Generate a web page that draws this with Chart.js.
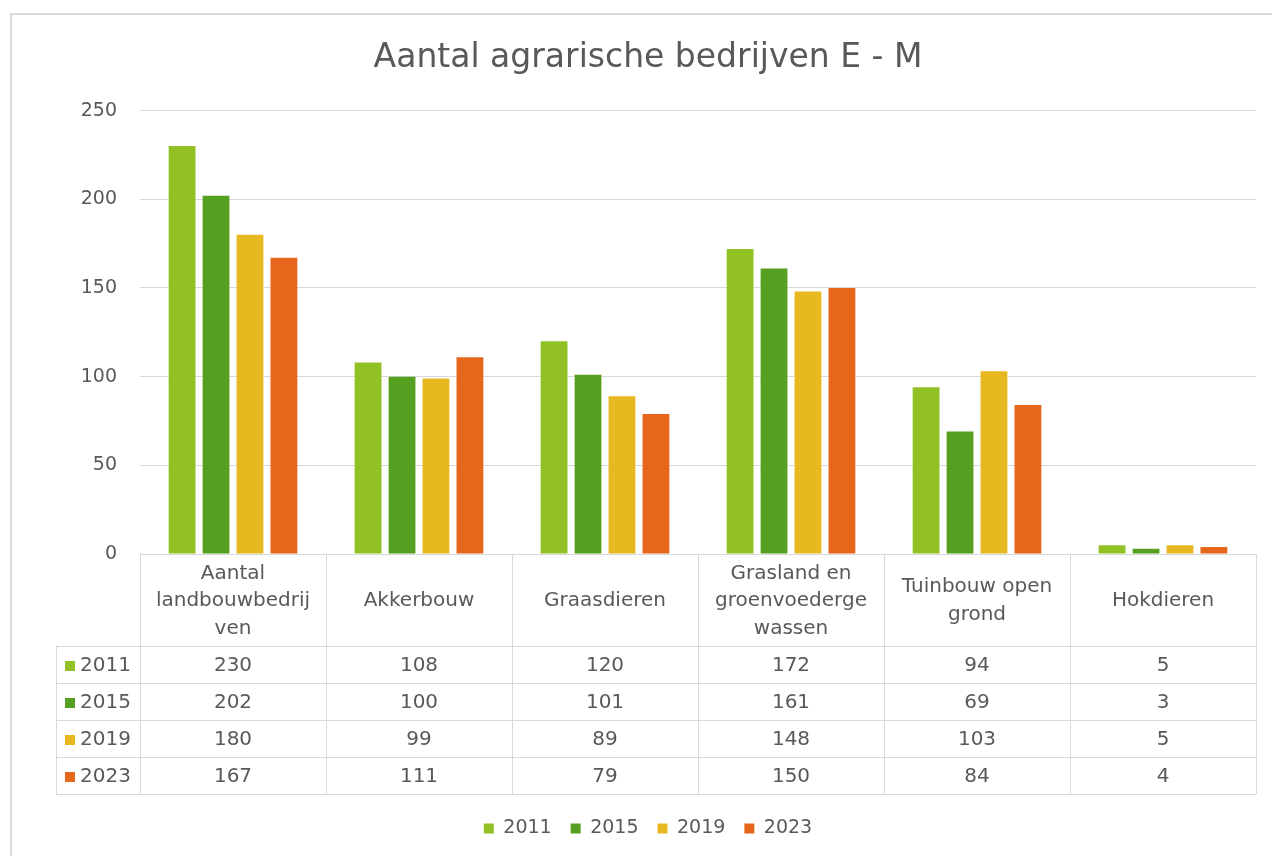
<!DOCTYPE html>
<html>
<head>
<meta charset="utf-8">
<script src="https://cdn.jsdelivr.net/npm/chart.js@4"></script>
<style>
html,body{margin:0;padding:0;background:#ffffff;}
#wrap{position:relative;width:1272px;height:856px;}
</style>
</head>
<body>
<div id="wrap"><canvas id="c" width="1272" height="856"></canvas></div>
<script>
const chartTitle = "Aantal agrarische bedrijven E - M";
const categories = [
  ["Aantal", "landbouwbedrij", "ven"],
  ["Akkerbouw"],
  ["Graasdieren"],
  ["Grasland en", "groenvoederge", "wassen"],
  ["Tuinbouw open", "grond"],
  ["Hokdieren"]
];
const seriesNames = ["2011", "2015", "2019", "2023"];
const values2011 = [230, 108, 120, 172, 94, 5];
const values2015 = [202, 100, 101, 161, 69, 3];
const values2019 = [180, 99, 89, 148, 103, 5];
const values2023 = [167, 111, 79, 150, 84, 4];
const seriesColors = ["#91c124", "#55a021", "#e7b81f", "#e6671b"];
const yMin = 0, yMax = 250, yStep = 50;

const FONT = "'DejaVu Sans', sans-serif";
const TEXT = "#595959";
const LINE = "#d9d9d9";

const seriesValues = [values2011, values2015, values2019, values2023];

const frameAndTable = {
  id: 'frameAndTable',
  beforeDraw(chart) {
    const ctx = chart.ctx;
    ctx.save();
    ctx.strokeStyle = LINE;
    ctx.lineWidth = 2;
    ctx.beginPath();
    ctx.moveTo(11, chart.height);
    ctx.lineTo(11, 14);
    ctx.lineTo(chart.width, 14);
    ctx.stroke();
    ctx.restore();
  },
  afterDraw(chart) {
    const ctx = chart.ctx;
    const x = chart.scales.x;
    const area = chart.chartArea;
    const n = chart.data.labels.length;
    const colW = (x.right - x.left) / n;
    const top = Math.round(area.bottom);
    const headerH = 92, rowH = 37;
    const keyLeft = 56;
    const nRows = chart.data.datasets.length;
    const bottom = top + headerH + rowH * nRows;

    ctx.save();
    ctx.strokeStyle = LINE;
    ctx.lineWidth = 1;
    ctx.beginPath();
    ctx.moveTo(x.left, top + 0.5); ctx.lineTo(x.right, top + 0.5);
    for (let r = 0; r <= nRows; r++) {
      const yy = top + headerH + r * rowH + 0.5;
      ctx.moveTo(keyLeft, yy); ctx.lineTo(x.right, yy);
    }
    ctx.moveTo(keyLeft + 0.5, top + headerH); ctx.lineTo(keyLeft + 0.5, bottom);
    for (let i = 0; i <= n; i++) {
      const cx = Math.round(x.getPixelForValue(Math.min(i, n - 1)) + (i === n ? colW / 2 : -colW / 2)) + 0.5;
      ctx.moveTo(cx, top); ctx.lineTo(cx, bottom);
    }
    ctx.stroke();

    ctx.fillStyle = TEXT;
    ctx.font = "20px " + FONT;
    ctx.textAlign = 'center';
    ctx.textBaseline = 'middle';
    const lh = 27.5;
    chart.data.labels.forEach((lab, i) => {
      const cx = x.getPixelForValue(i);
      const lines = Array.isArray(lab) ? lab : [lab];
      const start = top + 47 - (lines.length - 1) * lh / 2;
      lines.forEach((t, k) => ctx.fillText(t, cx, start + k * lh));
    });
    chart.data.datasets.forEach((ds, r) => {
      const cy = top + headerH + r * rowH + rowH / 2 + 1;
      ds.data.forEach((v, i) => {
        ctx.fillStyle = TEXT;
        ctx.textAlign = 'center';
        ctx.fillText(String(v), x.getPixelForValue(i), cy);
      });
      ctx.fillStyle = ds.backgroundColor;
      ctx.fillRect(keyLeft + 9, Math.round(cy - 5), 10, 10);
      ctx.fillStyle = TEXT;
      ctx.textAlign = 'left';
      ctx.fillText(ds.label, keyLeft + 24, cy);
    });
    ctx.restore();
  }
};

new Chart(document.getElementById('c'), {
  type: 'bar',
  data: {
    labels: categories,
    datasets: seriesNames.map((name, k) => ({
      label: name,
      data: seriesValues[k],
      backgroundColor: seriesColors[k],
      borderWidth: 0,
      categoryPercentage: 0.73,
      barPercentage: 0.79
    }))
  },
  options: {
    responsive: false,
    animation: false,
    layout: { padding: { left: 40, right: 16, top: 0, bottom: 8 } },
    plugins: {
      title: {
        display: true,
        text: chartTitle,
        color: TEXT,
        font: { family: FONT, size: 33, weight: 'normal' },
        padding: { top: 39, bottom: 32 }
      },
      legend: {
        position: 'bottom',
        labels: {
          boxWidth: 10,
          boxHeight: 10,
          padding: 19,
          color: TEXT,
          font: { family: FONT, size: 19 }
        }
      },
      tooltip: { enabled: false }
    },
    scales: {
      x: {
        ticks: { display: false },
        grid: { display: false },
        border: { display: false },
        afterFit(s) { s.height = 246; }
      },
      y: {
        min: yMin,
        max: yMax,
        ticks: {
          stepSize: yStep,
          color: TEXT,
          padding: 23,
          font: { family: FONT, size: 19 }
        },
        grid: { color: LINE, drawTicks: false, lineWidth: 1 },
        border: { display: false },
        afterFit(s) { s.width = 100; }
      }
    }
  },
  plugins: [frameAndTable]
});
</script>
</body>
</html>
